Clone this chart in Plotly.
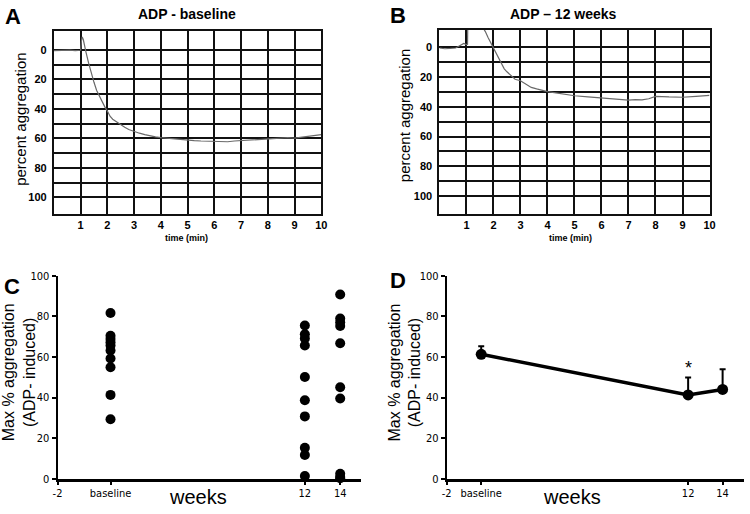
import plotly.graph_objects as go

# ---------------- data ----------------
# Panel A: ADP - baseline aggregation trace
a_time = [0, 0.2, 0.4, 0.6, 0.8, 1.0, 1.03, 1.06, 1.1, 1.15, 1.2, 1.3, 1.4, 1.5, 1.6, 1.7, 1.8, 1.9,
          2.0, 2.1, 2.2, 2.35, 2.5, 2.65, 2.8, 3.0, 3.2, 3.4, 3.6, 3.8, 4.0, 4.25, 4.5, 4.75, 5.0,
          5.25, 5.5, 5.75, 6.0, 6.25, 6.5, 6.75, 7.0, 7.25, 7.5, 7.75, 8.0, 8.25, 8.5, 8.75, 9.0,
          9.25, 9.5, 9.75, 10.0]
a_aggr = [0.5, 0.3, 0.6, 0.2, 0.5, 0.3, -6, -8.8, -7, -2, 1.5, 9, 16, 22, 27.5, 31.5, 35, 38.5,
          41.5, 45, 47, 49, 51, 52.5, 54, 55.5, 56.5, 57.5, 58, 59, 59.5, 60, 60.5, 60.8, 61.2,
          61.5, 61.8, 62, 62.2, 62, 62.3, 61.8, 61.5, 61.6, 61.2, 60.8, 60.2, 60, 59.8, 59.5, 59.8,
          59.2, 58.5, 58.2, 57.5]

# Panel B: ADP - 12 weeks aggregation trace
b_time = [0, 0.2, 0.4, 0.6, 0.7, 0.8, 0.9, 1.0, 1.04, 1.06, 1.6, 1.7, 1.8, 1.9, 2.0, 2.1, 2.2,
          2.3, 2.4, 2.5, 2.65, 2.8, 3.0, 3.2, 3.4, 3.6, 3.8, 4.0, 4.25, 4.5, 4.75, 5.0, 5.5, 6.0,
          6.5, 7.0, 7.25, 7.5, 7.75, 8.0, 8.5, 9.0, 9.5, 10.0]
b_aggr = [0.5, 1, 0.8, 0.5, -0.5, -1.5, -2.5, -1.8, -2, -30, -14, -10.5, -6.5, -3, 1, 4.5, 8.5,
          11.5, 14.5, 16.5, 19, 21.5, 22.5, 25, 27, 28, 29, 29.8, 30.5, 31.3, 32, 32.6, 33.3, 34,
          34.5, 35.5, 35.2, 35.3, 34.6, 33, 33.4, 33.6, 33, 32.4]

# Panel C: individual max % aggregation
c_baseline = [81.6, 70.4, 68.8, 67.2, 65.6, 63.2, 59.2, 54.9, 41.3, 29.3]
c_week12 = [75.5, 71.2, 69.1, 65.6, 50.1, 38.7, 30.7, 15.2, 11.7, 1.3]
c_week14 = [90.7, 78.9, 77.1, 75.2, 66.7, 45.1, 39.5, 2.4, 0.8, 0.2]
c_xpos = {"baseline": 1, "12": 12, "14": 14}

# Panel D: mean max % aggregation with SEM
d_x = [0, 12, 14]
d_mean = [61.3, 41.3, 44.0]
d_err = [3.9, 8.6, 9.9]

trace_ticks = [1, 2, 3, 4, 5, 6, 7, 8, 9, 10]
pct_ticks = [0, 10, 20, 30, 40, 50, 60, 70, 80, 90, 100]
pct_text = ["0", "", "20", "", "40", "", "60", "", "80", "", "100"]

# ---------------- figure ----------------
W, H = 750, 514
def px(x):
    return x / W
def py(y):
    return 1 - y / H

fig = go.Figure()
curve_color = "#6a6a6a"
fig.add_trace(go.Scatter(x=a_time, y=a_aggr, mode="lines", xaxis="x", yaxis="y",
                         line=dict(color=curve_color, width=1.2), showlegend=False))
fig.add_trace(go.Scatter(x=b_time, y=b_aggr, mode="lines", xaxis="x2", yaxis="y2",
                         line=dict(color=curve_color, width=1.2), showlegend=False))

for key, vals in [("baseline", c_baseline), ("12", c_week12), ("14", c_week14)]:
    fig.add_trace(go.Scatter(x=[c_xpos[key]] * len(vals), y=vals, mode="markers",
                             xaxis="x3", yaxis="y3", cliponaxis=False,
                             marker=dict(color="black", size=10), showlegend=False))

fig.add_trace(go.Scatter(x=d_x, y=d_mean, mode="lines+markers", xaxis="x4", yaxis="y4",
                         cliponaxis=False,
                         line=dict(color="black", width=3.5),
                         marker=dict(color="black", size=11),
                         error_y=dict(type="data", array=d_err, arrayminus=[0, 0, 0],
                                      color="black", thickness=2, width=3),
                         showlegend=False))

bold_font = dict(family="Liberation Sans, Arial", size=11, color="black", weight="bold")
narrow_font = dict(family="Liberation Sans Narrow, DejaVu Sans Condensed, Arial Narrow, sans-serif",
                   size=11, color="black")

def trace_x(domain):
    return dict(domain=domain, range=[0, 10], tickvals=trace_ticks, showgrid=True,
                gridcolor="#111111", gridwidth=2, showline=True, mirror=True,
                linecolor="#111111", linewidth=2, ticks="", zeroline=False,
                tickfont=bold_font, fixedrange=True)

def trace_y(domain, rng):
    return dict(domain=domain, range=rng, tickvals=pct_ticks, ticktext=pct_text,
                showgrid=True, gridcolor="#111111", gridwidth=2, showline=True, mirror=True,
                linecolor="#111111", linewidth=2, ticks="", zeroline=False,
                tickfont=bold_font, ticklabelstandoff=3, fixedrange=True)

def dot_x(domain, rng, tv, tt):
    return dict(domain=domain, range=rng, tickvals=tv, ticktext=tt, showgrid=False,
                showline=True, linecolor="black", linewidth=2.5, ticks="outside",
                ticklen=4, tickwidth=1.5, tickcolor="black", zeroline=False,
                tickfont=narrow_font, ticklabelstandoff=-2, fixedrange=True)

def dot_y(domain):
    return dict(domain=domain, range=[0, 100], tickvals=[0, 20, 40, 60, 80, 100],
                showgrid=False, showline=True, linecolor="black", linewidth=2,
                ticks="outside", ticklen=4, tickwidth=1.5, tickcolor="black",
                zeroline=False, tickfont=narrow_font, fixedrange=True)

yd_top = [py(213.3), py(25.3)]
yd_bot = [py(485), py(276.7)]

fig.update_layout(
    width=W, height=H, autosize=False,
    margin=dict(l=0, r=0, t=0, b=0),
    paper_bgcolor="white", plot_bgcolor="white",
    xaxis=dict(trace_x([px(49.6), px(321)]), anchor="y"),
    yaxis=dict(trace_y(yd_top, [111.2, -13]), anchor="x"),
    xaxis2=dict(trace_x([px(440.9), px(715)]), anchor="y2"),
    yaxis2=dict(trace_y([py(213.3), py(24.3)], [112, -11.8]), anchor="x2"),
    xaxis3=dict(dot_x([px(53.3), px(361.7)], [-2, 15.2], [-2, 1, 12, 14],
                      ["-2", "baseline", "12", "14"]), anchor="y3"),
    yaxis3=dict(dot_y(yd_bot), anchor="x3"),
    xaxis4=dict(dot_x([px(448.3), 1.0], [-2, 15.24], [-2, 0, 12, 14],
                      ["-2", "baseline", "12", "14"]), anchor="y4"),
    yaxis4=dict(dot_y(yd_bot), anchor="x4"),
)

arial = "Liberation Sans, Arial"
def ann(text, x, y, size, bold=False, angle=0):
    f = dict(family=arial, size=size, color="black")
    if bold:
        f["weight"] = "bold"
    fig.add_annotation(text=text, x=px(x), y=py(y), xref="paper", yref="paper",
                       xanchor="center", yanchor="middle", showarrow=False,
                       textangle=angle, font=f)

# panel letters
ann("A", 8, 11, 22, bold=True)
ann("B", 399, 10, 22, bold=True)
ann("C", 7, 288, 22, bold=True)
ann("D", 399, 282, 22, bold=True)
# titles
ann("ADP - baseline", 185, 8, 14, bold=True)
ann("ADP – 12 weeks", 567, 8, 14, bold=True)
# trace axis titles
ann("percent aggregation", 15, 116, 15, angle=-90)
ann("percent aggregation", 405, 113, 15, angle=-90)
ann("time (min)", 184, 238, 9, bold=True)
ann("time (min)", 574, 238, 9, bold=True)
# dot plot axis titles
ann("Max % aggregation<br>(ADP- induced)", 15, 376, 16, angle=-90)
ann("Max % aggregation<br>(ADP- induced)", 406, 376, 16, angle=-90)
ann("weeks", 196, 504, 20)
ann("weeks", 575, 504, 20)
# significance marker
fig.add_annotation(text="*", x=12, y=54.4, xref="x4", yref="y4", showarrow=False,
                   xanchor="center", yanchor="middle",
                   font=dict(family=arial, size=18, color="black"))

fig.write_html("out.html", config={"displayModeBar": False},
               post_script="document.body.style.margin='0';document.body.style.padding='0';")
